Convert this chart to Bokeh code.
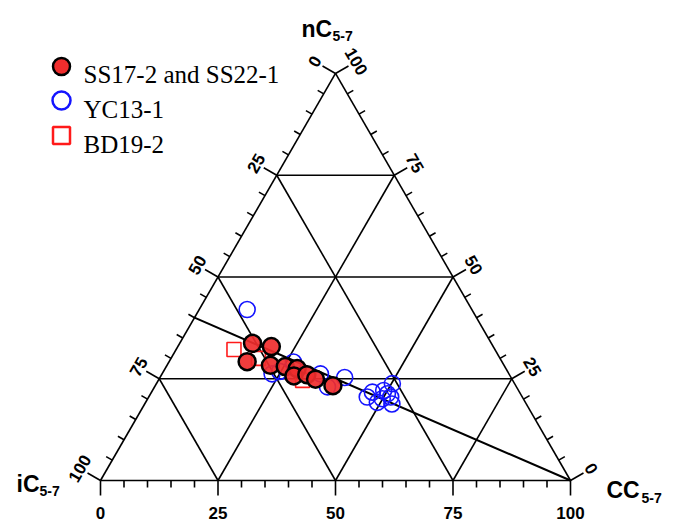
import math
from bokeh.plotting import figure
from bokeh.models import Range1d
from bokeh.embed import file_html
from bokeh.resources import INLINE
from bokeh.core.properties import value

# ---------------- data (percent); iC = 100 - CC - nC ----------------
ss_cc = [15.5, 19.9, 16.6, 22.0, 25.3, 28.1, 28.3, 30.9, 33.3, 37.8]
ss_nc = [33.7, 32.9, 29.2, 28.3, 28.0, 27.5, 25.7, 26.0, 24.9, 23.3]

yc_cc = [10.2, 23.4, 26.5, 24.7, 33.7, 39.3, 36.8, 50.2, 47.0, 46.5,
         49.2, 49.9, 51.5, 52.6, 49.3, 50.4]
yc_nc = [42.0, 26.2, 29.1, 26.8, 26.2, 25.3, 23.0, 23.8, 21.7, 20.5,
         22.1, 20.1, 20.5, 18.8, 19.2, 21.3]

bd_cc = [12.3, 18.6, 30.7]
bd_nc = [32.2, 30.0, 24.6]

ref_cc = [0, 100]
ref_nc = [40, 0]

grid_levels = [25, 50, 75]
tick_labels = ["0", "25", "50", "75", "100"]
tick_values = [0, 25, 50, 75, 100]
minor_step = 5

series_names = ["SS17-2 and SS22-1", "YC13-1", "BD19-2"]

# ---------------- geometry ----------------
S = 4.7            # pixels per percent unit
R3 = math.sqrt(3) / 2


def tern(cc, nc):
    return cc + nc / 2.0, nc * R3


def tern_list(ccs, ncs):
    xs, ys = [], []
    for c, n in zip(ccs, ncs):
        x, y = tern(c, n)
        xs.append(x)
        ys.append(y)
    return xs, ys


def pg(px, py):
    # picture pixel position -> data units (layout helper)
    return (px - 100) / S, (480 - py) / S


W, H = 676, 523
x0 = -100 / S
x1 = x0 + W / S
y1 = 480 / S
y0 = y1 - H / S

p = figure(width=W, height=H, x_range=Range1d(x0, x1), y_range=Range1d(y0, y1),
           output_backend="svg", toolbar_location=None, min_border=0,
           x_axis_type=None, y_axis_type=None)
p.grid.visible = False
p.outline_line_color = None
p.background_fill_color = "white"

# ---------------- frame and grid ----------------
gx0, gy0, gx1, gy1 = [], [], [], []
for c in [0] + grid_levels:
    a = tern(0, c); b = tern(100 - c, c)
    gx0.append(a[0]); gy0.append(a[1]); gx1.append(b[0]); gy1.append(b[1])
    a = tern(c, 0); b = tern(c, 100 - c)
    gx0.append(a[0]); gy0.append(a[1]); gx1.append(b[0]); gy1.append(b[1])
    a = tern(100 - c, 0); b = tern(0, 100 - c)
    gx0.append(a[0]); gy0.append(a[1]); gx1.append(b[0]); gy1.append(b[1])
p.segment(gx0, gy0, gx1, gy1, line_color="black", line_width=1.6)

# ---------------- ticks ----------------
tx0, ty0, tx1, ty1 = [], [], [], []
maj = 15 / S
mnr = 7 / S
nl = (-R3, 0.5)
nr = (R3, 0.5)
for t in range(0, 101, minor_step):
    L = maj if t % 25 == 0 else mnr
    x, y = tern(t, 0)
    tx0.append(x); ty0.append(y); tx1.append(x); ty1.append(y - L)
    x, y = tern(0, 100 - t)
    tx0.append(x); ty0.append(y); tx1.append(x + nl[0] * L); ty1.append(y + nl[1] * L)
    x, y = tern(100 - t, t)
    tx0.append(x); ty0.append(y); tx1.append(x + nr[0] * L); ty1.append(y + nr[1] * L)
p.segment(tx0, ty0, tx1, ty1, line_color="black", line_width=1.6)

# tick labels
font = value("Liberation Sans")
bx, by = [], []
lx, ly = [], []
rx, ry = [], []
off = 24 / S
for t in tick_values:
    x, y = tern(t, 0)
    bx.append(x); by.append(y - 32 / S)
    x, y = tern(0, 100 - t)
    lx.append(x + nl[0] * off); ly.append(y + nl[1] * off)
    x, y = tern(100 - t, t)
    rx.append(x + nr[0] * off); ry.append(y + nr[1] * off)

common = dict(text_font=font, text_font_style="bold", text_font_size="17px",
              text_align="center", text_baseline="middle", text_color="black")
p.text(bx, by, text=tick_labels, **common)
p.text(lx, ly, text=tick_labels, angle=math.pi / 3, **common)
p.text(rx, ry, text=tick_labels, angle=-math.pi / 3, **common)

# ---------------- reference line ----------------
rlx, rly = tern_list(ref_cc, ref_nc)
p.line(rlx, rly, line_color="black", line_width=2)

# ---------------- data points ----------------
bdx, bdy = tern_list(bd_cc, bd_nc)
p.scatter(bdx, bdy, marker="square", size=14, fill_color=None,
          line_color="#ff1a1a", line_width=1.6)
ycx, ycy = tern_list(yc_cc, yc_nc)
p.scatter(ycx, ycy, marker="circle", size=16, fill_color=None,
          line_color="#1414ff", line_width=1.6)
ssx, ssy = tern_list(ss_cc, ss_nc)
p.scatter(ssx, ssy, marker="circle", size=17, fill_color="#ef2d2d", fill_alpha=0.92,
          line_color="black", line_width=2.5)

# ---------------- vertex titles ----------------
tfont = dict(text_font=font, text_font_style="bold", text_color="black",
             text_align="left", text_baseline="alphabetic")
titles = [("nC", 301, 28, 332, 35), ("iC", 16, 483, 39, 490), ("CC", 606, 489, 641, 497)]
for main, mx, my, sx, sy in titles:
    a = pg(mx, my)
    p.text([a[0]], [a[1]], text=[main], text_font_size="23px", **tfont)
    b = pg(sx, sy)
    p.text([b[0]], [b[1]], text=["5-7"], text_font_size="14px", **tfont)

# ---------------- legend ----------------
lg = [pg(61, 66), pg(61, 100), pg(61, 135)]
p.scatter([lg[0][0]], [lg[0][1]], marker="circle", size=17, fill_color="#ef2d2d",
          line_color="black", line_width=2.5)
p.scatter([lg[1][0]], [lg[1][1]], marker="circle", size=18, fill_color=None,
          line_color="#1414ff", line_width=2.5)
p.scatter([lg[2][0]], [lg[2][1]], marker="square", size=17, fill_color=None,
          line_color="#ff1a1a", line_width=2.5)
ltx, lty = [], []
for yy in [74, 109, 144]:
    q = pg(83, yy)
    ltx.append(q[0]); lty.append(q[1])
p.text(ltx, lty, text=series_names, text_font=value("Liberation Serif"),
       text_font_size="25px", text_align="left", text_baseline="alphabetic",
       text_color="black")

open("out.html", "w").write(file_html(p, INLINE))
